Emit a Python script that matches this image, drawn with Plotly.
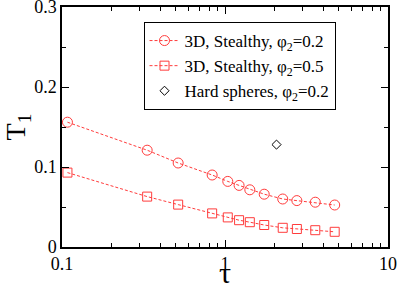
import plotly.graph_objects as go

tau_s = [0.108, 0.333, 0.516, 0.834, 1.04, 1.22, 1.42, 1.74, 2.26, 2.76, 3.58, 4.71]
t1_phi02 = [0.156, 0.121, 0.105, 0.090, 0.082, 0.077, 0.0715, 0.066, 0.060, 0.058, 0.056, 0.0525]
t1_phi05 = [0.093, 0.063, 0.053, 0.042, 0.037, 0.0335, 0.031, 0.0275, 0.024, 0.0225, 0.021, 0.019]
tau_hs = [2.07]
t1_hs = [0.128]

FONT = "Liberation Serif, Times New Roman, serif"
red = "rgb(255,60,60)"

fig = go.Figure()
fig.add_trace(go.Scatter(x=tau_s, y=t1_phi02, mode="lines+markers",
                         name="3D, Stealthy, φ<sub>2</sub>=0.2",
                         line=dict(color=red, width=1, dash="3px,2px"),
                         marker=dict(symbol="circle-open", size=10, color=red, line=dict(width=1))))
fig.add_trace(go.Scatter(x=tau_s, y=t1_phi05, mode="lines+markers",
                         name="3D, Stealthy, φ<sub>2</sub>=0.5",
                         line=dict(color=red, width=1, dash="3px,2px"),
                         marker=dict(symbol="square-open", size=9, color=red, line=dict(width=1))))
fig.add_trace(go.Scatter(x=tau_hs, y=t1_hs, mode="markers",
                         name="Hard spheres, φ<sub>2</sub>=0.2",
                         marker=dict(symbol="diamond-open", size=7, color="black", line=dict(width=1))))

fig.update_layout(
    width=399, height=284,
    margin=dict(l=62, r=11, t=7, b=37),
    paper_bgcolor="white", plot_bgcolor="white",
    font=dict(family=FONT, size=17, color="black"),
    showlegend=True,
    legend=dict(x=0.25, y=0.9375, xanchor="left", yanchor="top",
                bordercolor="black", borderwidth=1, bgcolor="white",
                font=dict(family=FONT, size=17), itemwidth=30,
                tracegroupgap=0),
    annotations=[dict(text="τ", xref="paper", yref="paper", x=0.5, y=-0.108,
                      xanchor="center", yanchor="middle", showarrow=False,
                      font=dict(family=FONT, size=30))],
)
fig.update_xaxes(type="log", range=[-1, 1], tickvals=[0.1, 1, 10], ticktext=["0.1", "1", "10"],
                 ticks="inside", ticklen=7, tickwidth=1, tickcolor="black",
                 showline=True, linecolor="black", linewidth=1.5, mirror="ticks",
                 showgrid=False, zeroline=False, automargin=False, ticklabeloverflow="allow",
                 minor=dict(ticks="inside", ticklen=4, tickcolor="black", showgrid=False,
                            tickvals=[0.2, 0.3, 0.4, 0.5, 0.6, 0.7, 0.8, 0.9, 2, 3, 4, 5, 6, 7, 8, 9]),
                 tickfont=dict(family=FONT, size=18))
fig.update_yaxes(range=[0, 0.3], tickvals=[0, 0.1, 0.2, 0.3], ticktext=["0", "0.1", "0.2", "0.3"],
                 ticks="inside", ticklen=7, tickwidth=1, tickcolor="black",
                 showline=True, linecolor="black", linewidth=1.5, mirror="ticks",
                 showgrid=False, zeroline=False, automargin=False, ticklabeloverflow="allow",
                 minor=dict(ticks="inside", ticklen=4, tickcolor="black", showgrid=False,
                            tickvals=[0.05, 0.15, 0.25]),
                 tickfont=dict(family=FONT, size=18),
                 title=dict(text="T<sub>1</sub>", font=dict(family=FONT, size=28), standoff=6))

fig.write_html("out.html", config={"displayModeBar": False},
               post_script="document.body.style.margin='0';document.body.style.overflow='hidden';")
